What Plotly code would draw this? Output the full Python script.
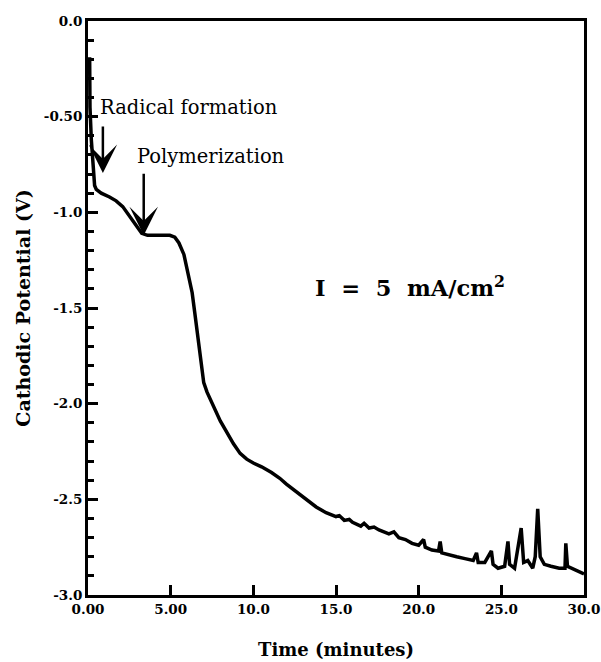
import plotly.graph_objects as go

time_min = [0.1, 0.12, 0.2, 0.3, 0.4, 0.5, 0.8, 1.3, 1.7, 2.1, 2.5, 2.85, 3.25, 3.6, 4.0, 4.5, 4.95,
            5.25, 5.5, 5.8, 6.1, 6.3, 6.45, 6.6, 6.75, 6.9, 7.0, 7.2, 7.4, 7.7, 8.0, 8.4, 8.8, 9.2,
            9.6, 10.0, 10.5, 11.1, 11.6, 12.0, 12.6, 13.2, 13.8, 14.4, 15.0, 15.2, 15.5, 15.8, 16.0,
            16.5, 16.7, 17.0, 17.3, 17.6, 18.2, 18.5, 18.8, 19.2, 19.6, 20.0, 20.3, 20.4, 20.8, 21.2,
            21.3, 21.4, 21.8, 22.3, 22.8, 23.3, 23.5, 23.6, 24.0, 24.4, 24.5, 24.8, 25.2, 25.4, 25.5,
            25.8, 26.2, 26.35, 26.6, 26.9, 27.05, 27.2, 27.35, 27.6, 28.0, 28.5, 28.85, 28.9, 29.0,
            29.5, 30.0]
potential_v = [-0.19, -0.45, -0.62, -0.75, -0.86, -0.88, -0.90, -0.92, -0.94, -0.97, -1.02, -1.06, -1.11,
               -1.12, -1.12, -1.12, -1.12, -1.13, -1.16, -1.22, -1.33, -1.42, -1.52, -1.62, -1.72,
               -1.82, -1.89, -1.94, -1.98, -2.03, -2.09, -2.15, -2.21, -2.26, -2.29, -2.31, -2.33,
               -2.36, -2.39, -2.42, -2.46, -2.50, -2.54, -2.57, -2.59, -2.585, -2.61, -2.605, -2.62,
               -2.64, -2.625, -2.65, -2.645, -2.66, -2.68, -2.67, -2.70, -2.71, -2.73, -2.74, -2.71,
               -2.75, -2.765, -2.77, -2.72, -2.78, -2.79, -2.80, -2.81, -2.82, -2.78, -2.83, -2.83,
               -2.77, -2.84, -2.86, -2.85, -2.72, -2.84, -2.86, -2.65, -2.83, -2.82, -2.86, -2.80,
               -2.55, -2.80, -2.84, -2.85, -2.86, -2.86, -2.73, -2.85, -2.87, -2.89]

x_tickvals = [0, 5, 10, 15, 20, 25, 30]
x_ticktext = ["0.00", "5.00", "10.0", "15.0", "20.0", "25.0", "30.0"]
y_tickvals = [0, -0.5, -1.0, -1.5, -2.0, -2.5, -3.0]
y_ticktext = ["0.0", "-0.50", "-1.0", "-1.5", "-2.0", "-2.5", "-3.0"]

serif = "DejaVu Serif"

fig = go.Figure()
fig.add_trace(go.Scatter(x=time_min, y=potential_v, mode="lines",
                         line=dict(color="black", width=3.5), showlegend=False))

fig.update_layout(
    width=601, height=662,
    margin=dict(l=88, r=17, t=21, b=67),
    paper_bgcolor="white", plot_bgcolor="white",
    font=dict(family=serif, color="black"),
    xaxis=dict(range=[0, 30], showgrid=False, zeroline=False, showline=True, linewidth=3,
               linecolor="black", mirror=True, ticks="inside", ticklen=10, tickwidth=3,
               tickcolor="black", tickvals=x_tickvals, ticktext=x_ticktext, automargin=False,
               tickfont=dict(family=serif, size=13.5, color="black", weight="bold"),
               title=dict(text="<b>Time (minutes)</b>", font=dict(family=serif, size=18),
                          standoff=28)),
    yaxis=dict(range=[-3.0, 0.0], showgrid=False, zeroline=False, showline=True, linewidth=3,
               linecolor="black", mirror=True, ticks="inside", ticklen=10, tickwidth=3,
               tickcolor="black", tickvals=y_tickvals, ticktext=y_ticktext, automargin=False,
               tickfont=dict(family=serif, size=13.5, color="black", weight="bold"),
               minor=dict(dtick=0.1, ticks="inside", ticklen=6, tickwidth=3, tickcolor="black",
                          showgrid=False),
               title=dict(text="<b>Cathodic Potential (V)</b>", font=dict(family=serif, size=19),
                          standoff=9)),
)

fig.add_annotation(x=6.08, y=-0.45, xref="x", yref="y", text="Radical formation", showarrow=False,
                   font=dict(family=serif, size=19.5, color="black"))
fig.add_annotation(x=7.44, y=-0.71, xref="x", yref="y", text="Polymerization", showarrow=False,
                   font=dict(family=serif, size=19.5, color="black"))
fig.add_annotation(x=19.46, y=-1.39, xref="x", yref="y",
                   text="<b>I\u00a0\u00a0=\u00a0\u00a05\u00a0\u00a0mA/cm<sup>2</sup></b>",
                   showarrow=False, font=dict(family=serif, size=22.5, color="black"))
fig.add_annotation(x=0.9, y=-0.795, ax=0.9, ay=-0.544, xref="x", yref="y", axref="x", ayref="y",
                   text="", showarrow=True, arrowhead=3, arrowsize=1.9, arrowwidth=2.5,
                   arrowcolor="black")
fig.add_annotation(x=3.37, y=-1.12, ax=3.37, ay=-0.79, xref="x", yref="y", axref="x", ayref="y",
                   text="", showarrow=True, arrowhead=3, arrowsize=1.9, arrowwidth=2.5,
                   arrowcolor="black")

fig.write_html("out.html")
